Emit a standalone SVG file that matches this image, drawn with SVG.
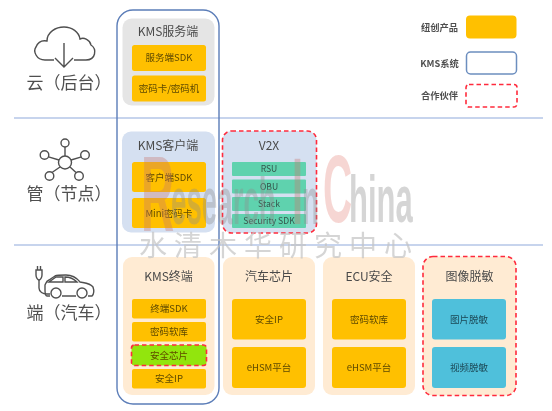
<svg xmlns="http://www.w3.org/2000/svg" width="552" height="411" viewBox="0 0 552 411">
<defs><filter id="soft" x="-2%" y="-2%" width="104%" height="104%"><feGaussianBlur stdDeviation="0.45"/></filter></defs>
<style>
text{font-family:"Noto Sans CJK SC","Noto Sans",sans-serif;text-anchor:middle}
.lane{font-size:17px;fill:#505050}
.title{font-size:12px;fill:#4a4a4a}
.sub{font-size:9.5px;fill:#5f4a00}
.subb{font-size:9.5px;fill:#1c4856}
.v{font-size:8.6px;fill:#34544a}
.leg{font-size:9.3px;font-weight:700;fill:#505050}
.grey{fill:#E5E5E5}.blue{fill:#D5E0F1}.peach{fill:#FFEBD3}
.or{fill:#FFC000}.teal{fill:#5FD2AE}.sky{fill:#4FC0DB}
.red{fill:none;stroke:#FF2B3C;stroke-width:1.6;stroke-dasharray:4.5 3}
.icon{fill:none;stroke:#505050;stroke-width:1.4}
.wm{font-family:"Liberation Sans",sans-serif;font-weight:700;fill:#8e8e8e;opacity:.36;text-anchor:start}
</style>
<g filter="url(#soft)">
<rect width="552" height="411" fill="#fff"/>
<g id="connectors">
<path d="M14 118H543M14 245H543" stroke="#8FAADC" stroke-width="1.2" fill="none"/>
</g>
<g id="cloud-icon" class="icon">
<path d="M54 60H45C36 60 33 51 36 47C38 42 42 40 47 41C47 32 56 27 64 27C72 27 79 32 80 39C84 37 90 40 91 45C97 49 96 60 86 60H74"/>
<path d="M64 43V67M55 58L64 67L73 58"/>
</g>
<text id="label-cloud" class="lane" x="69" y="89">云（后台）</text>
<g id="hub-icon" class="icon">
<path d="M65 147V156M48.500 156.800L59 160M81.500 156.800L71 160M52 172.500L60 167M76 172.500L70 167"/>
<circle cx="65" cy="162.500" r="6.500"/><circle cx="65" cy="143" r="4"/><circle cx="44.500" cy="155" r="4.300"/><circle cx="85" cy="155" r="4.300"/><circle cx="49.500" cy="176" r="4.300"/><circle cx="79" cy="176" r="4.300"/>
</g>
<text id="label-hub" class="lane" x="69" y="200">管（节点）</text>
<g id="car-icon" class="icon">
<path d="M36 270V275C36 278 38 280 39 280C40 280 42 278 42 275V270ZM37.500 270V266M40.500 270V266"/>
<path d="M39 280V288C39 292 43 294 47 294H50"/>
<path d="M50 296H47C45 296 45 293 45 290V285C46 283 46 281 49 280L55 276C57 275 62 275 66 275C71 275 76 277 80 282C85 283 90 283 93 287C94 290 94 294 92 296H88M76 296H62"/>
<path d="M49 282L56 277H63V282ZM65 277C70 277 74 279 77 282H65Z"/>
<circle cx="56" cy="293" r="5"/><circle cx="82" cy="293" r="5"/>
</g>
<text id="label-car" class="lane" x="69" y="319">端（汽车）</text>

<g id="kms-server">
<rect class="grey" x="122.500" y="18.500" width="92" height="87" rx="9"/>
<text class="title" x="168" y="35.500">KMS服务端</text>
<rect class="or" x="132" y="45" width="74" height="26" rx="2.500"/>
<text class="sub" x="169" y="61">服务端SDK</text>
<rect class="or" x="132" y="75.500" width="74" height="26" rx="2.500"/>
<text class="sub" x="169" y="91.500">密码卡/密码机</text>
</g>
<g id="kms-client">
<rect class="blue" x="122" y="131.500" width="93" height="101" rx="9"/>
<text class="title" x="168" y="150">KMS客户端</text>
<rect class="or" x="132" y="162" width="74" height="30" rx="2.500"/>
<text class="sub" x="169" y="180.500">客户端SDK</text>
<rect class="or" x="132" y="198" width="74" height="30" rx="2.500"/>
<text class="sub" x="169" y="216.500">Mini密码卡</text>
</g>
<g id="v2x">
<rect class="blue" x="222.500" y="131" width="94" height="102" rx="9"/>
<rect class="red" x="222.500" y="131" width="94" height="102" rx="9"/>
<text class="title" x="269" y="150">V2X</text>
<rect class="teal" x="232" y="162" width="74" height="14" rx="1"/>
<text class="v" x="269" y="172">RSU</text>
<rect class="teal" x="232" y="179.500" width="74" height="14" rx="1"/>
<text class="v" x="269" y="189.500">OBU</text>
<rect class="teal" x="232" y="197" width="74" height="14" rx="1"/>
<text class="v" x="269" y="207">Stack</text>
<rect class="teal" x="232" y="214" width="74" height="14" rx="1"/>
<text class="v" x="269" y="224">Security SDK</text>
</g>
<g id="kms-terminal">
<rect class="peach" x="123" y="257" width="91.500" height="138" rx="9"/>
<text class="title" x="168.500" y="281">KMS终端</text>
<rect class="or" x="132" y="299" width="74" height="19.500" rx="2"/>
<text class="sub" x="169" y="312">终端SDK</text>
<rect class="or" x="132" y="322" width="74" height="19.500" rx="2"/>
<text class="sub" x="169" y="335">密码软库</text>
<rect x="131.500" y="345" width="75" height="20.500" rx="3" fill="#92E50A"/>
<rect class="red" x="131.500" y="345" width="75" height="20.500" rx="3"/>
<text class="sub" x="169" y="358.500">安全芯片</text>
<rect class="or" x="132" y="369" width="74" height="19.500" rx="2"/>
<text class="sub" x="169" y="382">安全IP</text>
</g>
<g id="auto-chip">
<rect class="peach" x="223" y="257" width="92" height="138" rx="9"/>
<text class="title" x="269" y="281">汽车芯片</text>
<rect class="or" x="232" y="299" width="74" height="40.500" rx="3"/>
<text class="sub" x="269" y="323">安全IP</text>
<rect class="or" x="232" y="347" width="74" height="41" rx="3"/>
<text class="sub" x="269" y="371">eHSM平台</text>
</g>
<g id="ecu-security">
<rect class="peach" x="323" y="257" width="92" height="138" rx="9"/>
<text class="title" x="369" y="281">ECU安全</text>
<rect class="or" x="332" y="299" width="74" height="40.500" rx="3"/>
<text class="sub" x="369" y="323">密码软库</text>
<rect class="or" x="332" y="347" width="74" height="41" rx="3"/>
<text class="sub" x="369" y="371">eHSM平台</text>
</g>
<g id="image-desensitize">
<rect class="peach" x="423" y="256.500" width="93" height="139" rx="10"/>
<rect class="red" x="423" y="256.500" width="93" height="139" rx="10"/>
<text class="title" x="469.500" y="281">图像脱敏</text>
<rect class="sky" x="432" y="299" width="74" height="40.500" rx="3"/>
<text class="subb" x="469" y="323">图片脱敏</text>
<rect class="sky" x="432" y="347" width="74" height="41" rx="3"/>
<text class="subb" x="469" y="371">视频脱敏</text>
</g>
<g id="kms-system">
<rect x="117" y="10" width="102" height="394" rx="16" fill="none" stroke="#5B7DB8" stroke-width="1.4"/>
</g>
<g id="legend-product">
<text class="leg" x="439.500" y="30.500">纽创产品</text>
<rect class="or" x="466" y="15.500" width="50.500" height="23" rx="4"/>
</g>
<g id="legend-kms">
<text class="leg" x="439.500" y="66.500">KMS系统</text>
<rect x="466.500" y="52" width="50" height="22" rx="4" fill="#fff" stroke="#6C8EBF" stroke-width="1.500"/>
</g>
<g id="legend-partner">
<text class="leg" x="439.500" y="99">合作伙伴</text>
<rect class="red" x="466" y="84.500" width="51" height="22.500" rx="3"/>
</g>
<g id="watermark">
<text class="wm" transform="translate(141 231) scale(.43 1)" font-size="107" style="fill:#c97a70">R</text>
<text class="wm" transform="translate(171 224) scale(.42 1)" font-size="66">esearch</text>
<text class="wm" transform="translate(292 224) scale(.42 1)" font-size="94" style="fill:#c97a70">I</text>
<text class="wm" transform="translate(302 224) scale(.42 1)" font-size="66">n</text>
<text class="wm" transform="translate(323 222) scale(.42 1)" font-size="96" style="fill:#e89088">C</text>
<text class="wm" transform="translate(349 222) scale(.47 1)" font-size="66">hina</text>
<text x="279" y="256" font-size="28" letter-spacing="7" style="fill:#c4c4c4;opacity:.7">水清木华研究中心</text>
</g>
</g>
</svg>
